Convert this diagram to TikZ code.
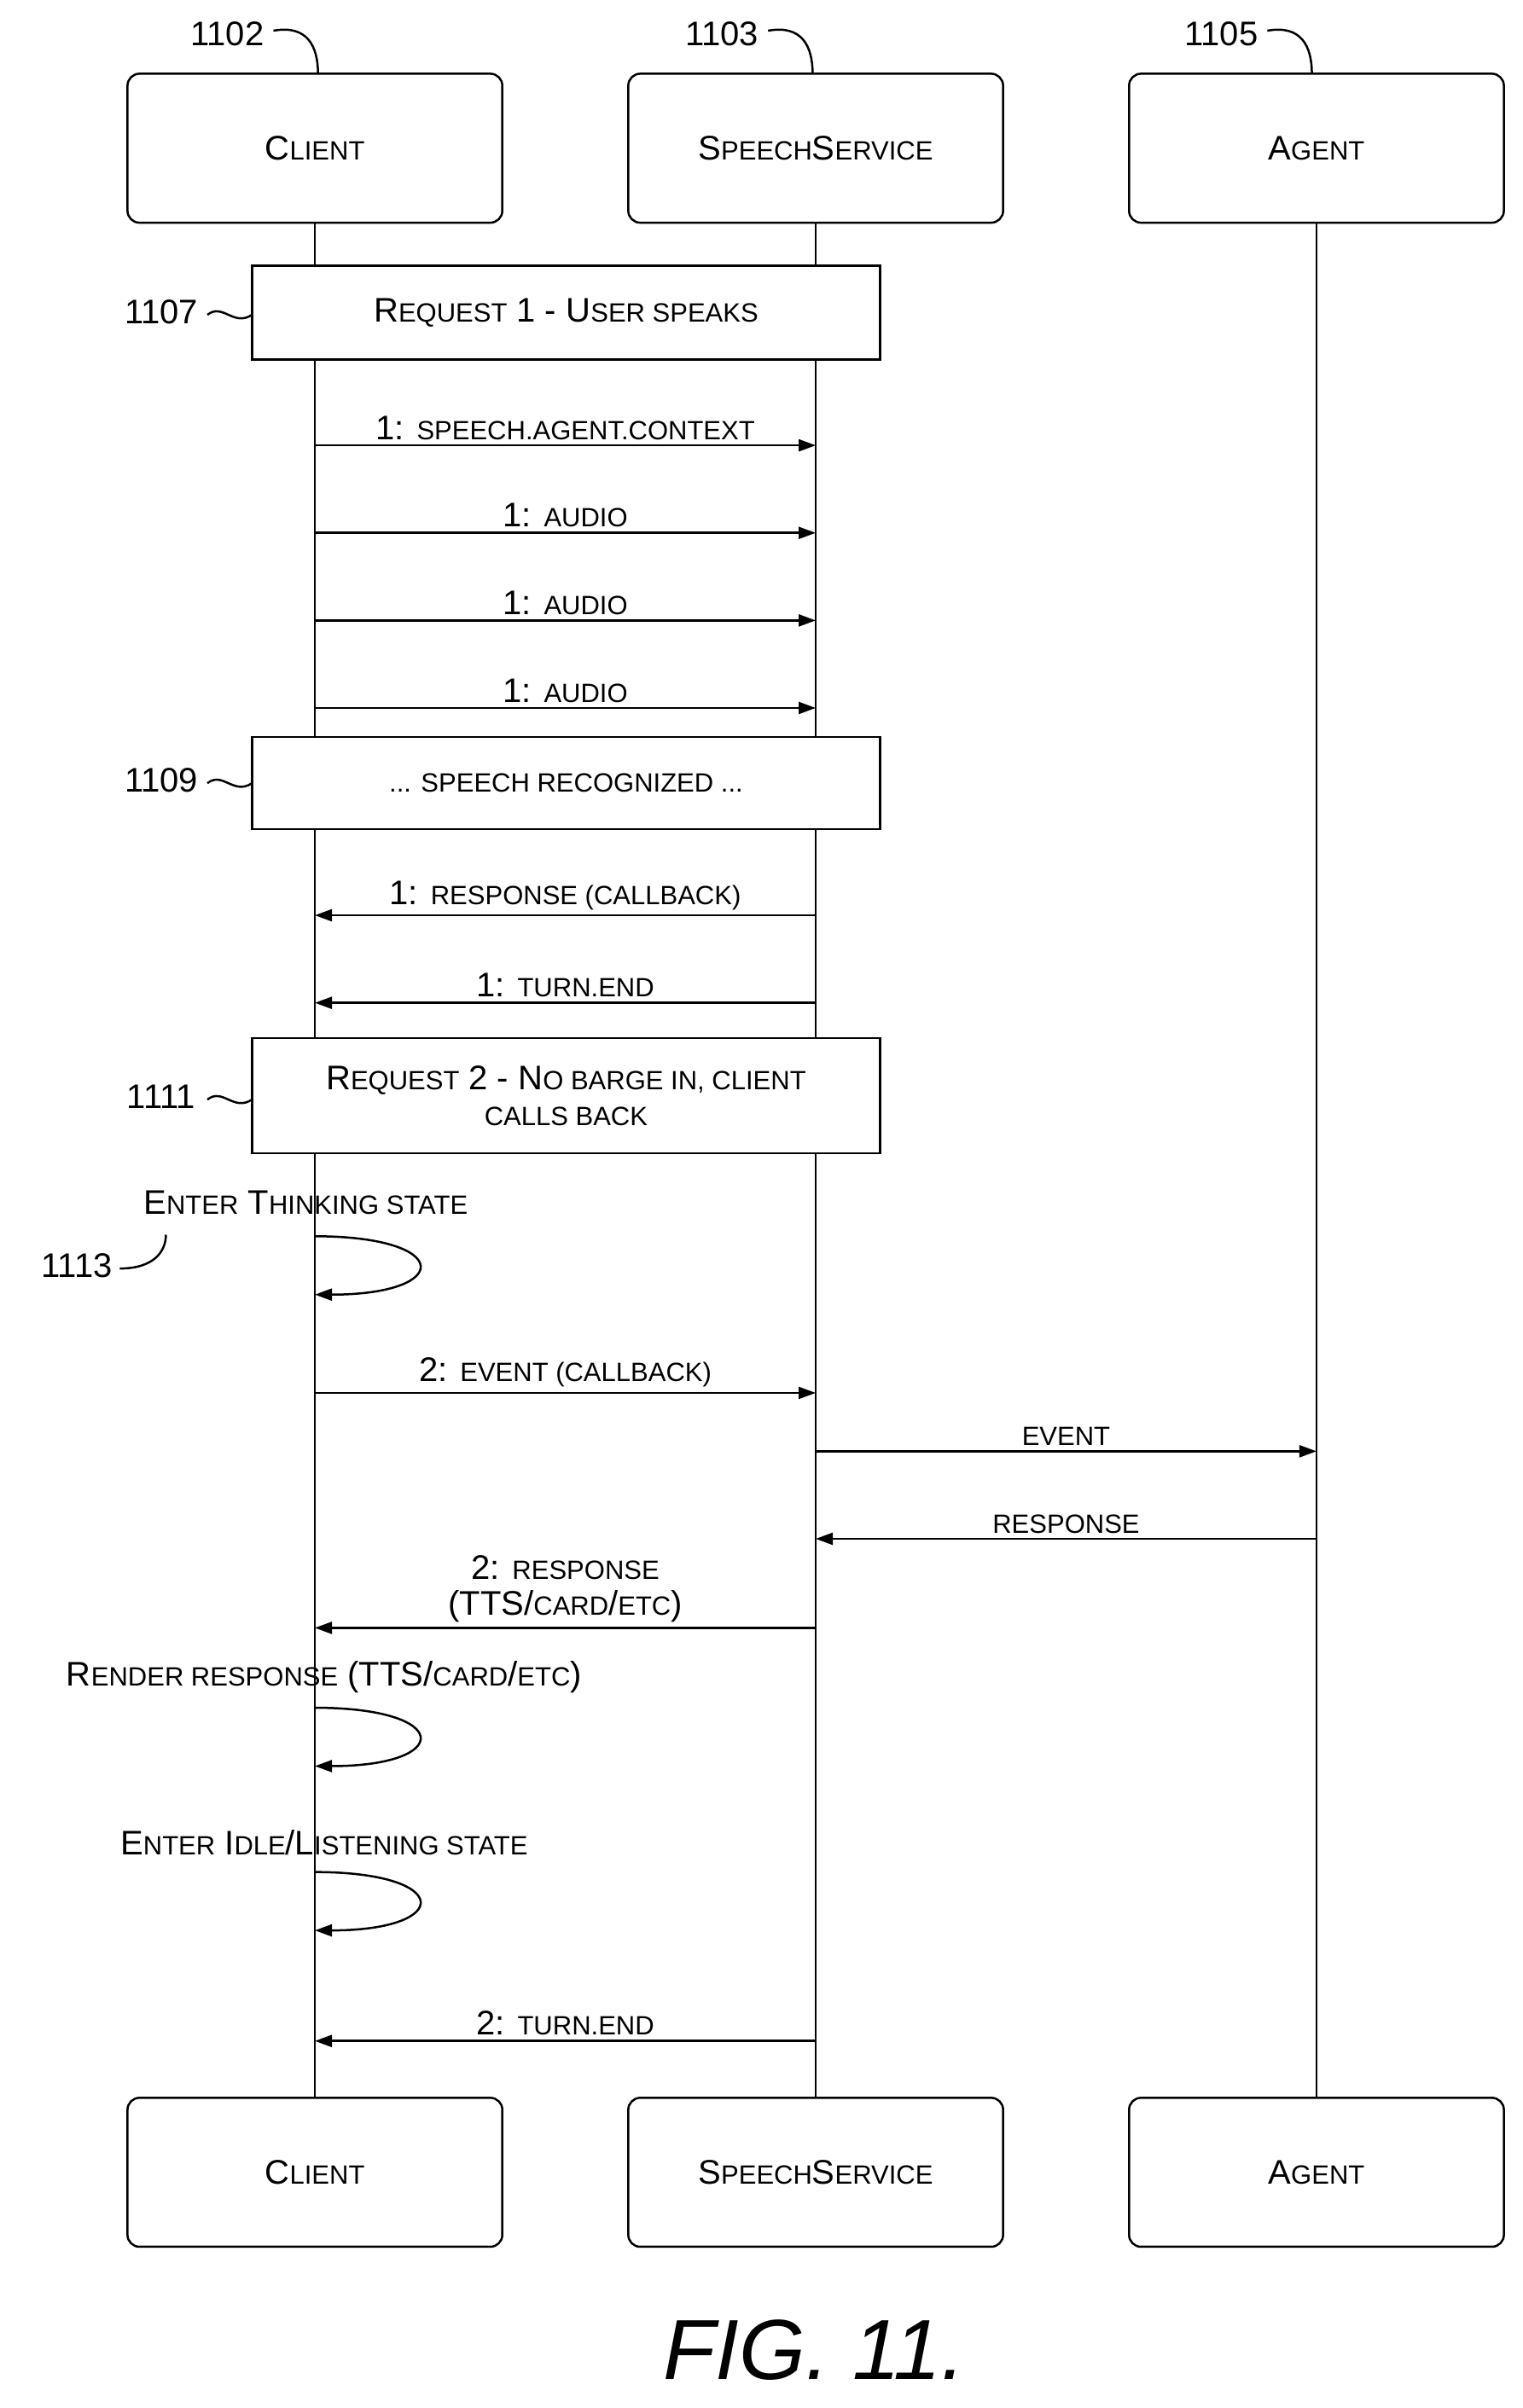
\documentclass[tikz,border=0pt]{standalone}
\usepackage{fontspec}
\setmainfont{Liberation Sans}
\usetikzlibrary{arrows.meta}
\newcommand\Sm[1]{{\fontsize{31}{36}\selectfont #1}}
\begin{document}
\begin{tikzpicture}[x=1.8pt,y=-1.8pt,
  every node/.style={font=\fontsize{40}{46}\selectfont},
  box/.style={draw,line width=2.5pt,rounded corners=14pt,minimum width=244*1.8pt,minimum height=97*1.8pt},
  note/.style={draw,line width=2.5pt,minimum width=409*1.8pt,align=center,inner sep=0pt},
  life/.style={line width=2.5pt},
  msg/.style={line width=2.5pt,-{Triangle[length=20pt,width=14pt]}},
  lead/.style={line width=2.5pt},
  lbl/.style={above=2pt,align=center}]
\useasboundingbox (0,0) rectangle (991,1568);
% lifelines
\draw[life] (205,145) -- (205,1366);
\draw[life] (531,145) -- (531,1366);
\draw[life] (857,145) -- (857,1366);
% top boxes
\node[box,fill=white] (c1) at (205,96.5) {C\Sm{LIENT}};
\node[box,fill=white] (s1) at (531,96.5) {S\Sm{PEECH}S\Sm{ERVICE}};
\node[box,fill=white] (a1) at (857,96.5) {A\Sm{GENT}};
\node[box,fill=white] (c2) at (205,1414.5) {C\Sm{LIENT}};
\node[box,fill=white] (s2) at (531,1414.5) {S\Sm{PEECH}S\Sm{ERVICE}};
\node[box,fill=white] (a2) at (857,1414.5) {A\Sm{GENT}};
% ref labels
\node (r1102) at (148,22) {1102};
\node (r1103) at (470,22) {1103};
\node (r1105) at (795,22) {1105};
\draw[lead] (178,20) .. controls (200,16) and (207,30) .. (207,48);
\draw[lead] (500,20) .. controls (522,16) and (529,30) .. (529,48);
\draw[lead] (825,20) .. controls (847,16) and (854,30) .. (854,48);
% notes
\node[note,fill=white,minimum height=61*1.8pt] (n1) at (368.5,203.5) {R\Sm{EQUEST} 1 - U\Sm{SER SPEAKS}};
\node[note,fill=white,minimum height=60*1.8pt] (n2) at (368.5,510) {\Sm{... SPEECH RECOGNIZED ...}};
\node[note,fill=white,minimum height=75*1.8pt] (n3) at (368.5,713.5) {R\Sm{EQUEST} 2 - N\Sm{O BARGE IN, CLIENT}\\[-4pt]\Sm{CALLS BACK}};
\node (r1107) at (105,203) {1107};
\node (r1109) at (105,508) {1109};
\node (r1111) at (105,714) {1111};
\node (r1113) at (50,824) {1113};
\foreach \y in {205,510,716}{
 \draw[lead] (135,\y) .. controls (145,\y-8) and (152,\y+8) .. (164,\y);}
\draw[lead] (78,826) .. controls (100,826) and (108,815) .. (108,804);
% messages
\draw[msg] (205,290) -- node[lbl]{1: \Sm{SPEECH.AGENT.CONTEXT}} (531,290);
\draw[msg] (205,347) -- node[lbl]{1: \Sm{AUDIO}} (531,347);
\draw[msg] (205,404) -- node[lbl]{1: \Sm{AUDIO}} (531,404);
\draw[msg] (205,461) -- node[lbl]{1: \Sm{AUDIO}} (531,461);
\draw[msg] (531,596) -- node[lbl]{1: \Sm{RESPONSE (CALLBACK)}} (205,596);
\draw[msg] (531,653) -- node[lbl]{1: \Sm{TURN.END}} (205,653);
\draw[msg] (205,907) -- node[lbl]{2: \Sm{EVENT (CALLBACK)}} (531,907);
\draw[msg] (531,945) -- node[lbl]{\Sm{EVENT}} (857,945);
\draw[msg] (857,1002) -- node[lbl]{\Sm{RESPONSE}} (531,1002);
\draw[msg] (531,1060) -- node[lbl]{2: \Sm{RESPONSE}\\[-4pt](TTS/\Sm{CARD}/\Sm{ETC})} (205,1060);
\draw[msg] (531,1329) -- node[lbl]{2: \Sm{TURN.END}} (205,1329);
% self loops
\node (t1) at (199,783) {E\Sm{NTER} T\Sm{HINKING STATE}};
\node (t2) at (211,1092) {R\Sm{ENDER RESPONSE} (TTS/\Sm{CARD}/\Sm{ETC})};
\node (t3) at (211,1200) {E\Sm{NTER} I\Sm{DLE}/L\Sm{ISTENING STATE}};
\foreach \y in {805,1112,1219}{
 \draw[msg] (205,\y) .. controls (295,\y) and (295,\y+38) .. (205,\y+38);}
\node[font=\fontsize{100}{110}\selectfont\itshape\rmfamily] (fig) at (530,1530) {FIG. 11.};
\end{tikzpicture}
\end{document}
